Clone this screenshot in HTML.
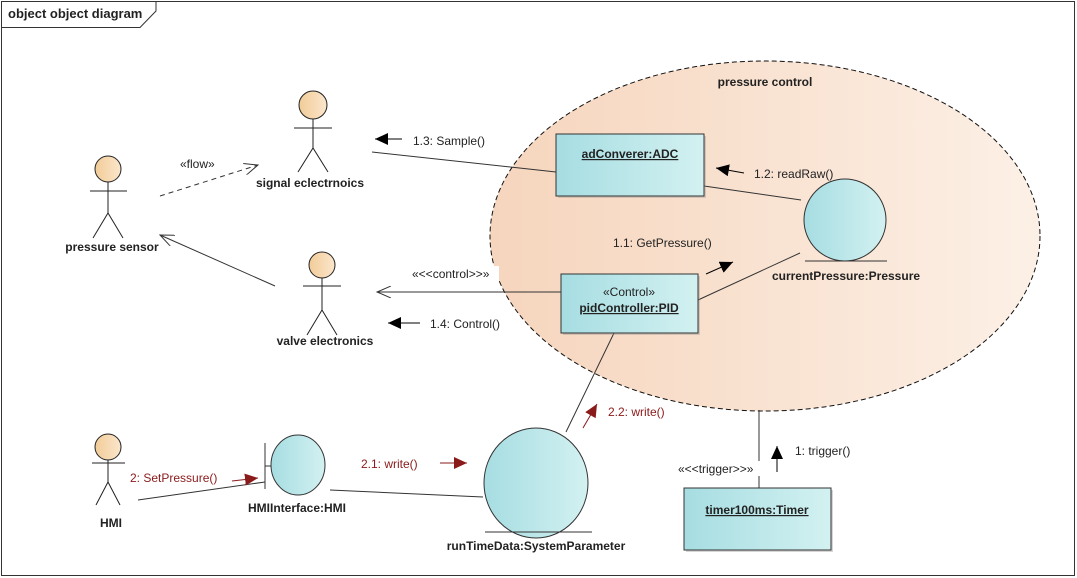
<!DOCTYPE html>
<html><head><meta charset="utf-8"><style>
html,body{margin:0;padding:0;background:#fff;}
svg{display:block;font-family:"Liberation Sans",sans-serif;}
.b{font-weight:bold;font-size:12px;fill:#222;}
.t{font-size:12px;fill:#222;}
.r{font-size:12px;fill:#8b1a1a;}
</style></head><body>
<svg width="1077" height="578" viewBox="0 0 1077 578">
<defs>
<linearGradient id="pe" x1="0" x2="1"><stop offset="0" stop-color="#f6d5bd"/><stop offset="1" stop-color="#fcf0e6"/></linearGradient>
<linearGradient id="cy" x1="0" x2="1"><stop offset="0" stop-color="#a6dde2"/><stop offset="1" stop-color="#d3f1f1"/></linearGradient>
<linearGradient id="ac" x1="0" x2="1"><stop offset="0" stop-color="#f2cc98"/><stop offset="1" stop-color="#fbe6cc"/></linearGradient>
<marker id="open" markerWidth="16" markerHeight="12" refX="14" refY="6" orient="auto" markerUnits="userSpaceOnUse"><path d="M0,0 L14,6 L0,12" fill="none" stroke="#333" stroke-width="1"/></marker>
<marker id="fa" markerWidth="14" markerHeight="12" refX="13" refY="6" orient="auto" markerUnits="userSpaceOnUse"><path d="M0,0 L13,6 L0,12 Z" fill="#000"/></marker>
<marker id="fr" markerWidth="14" markerHeight="12" refX="13" refY="6" orient="auto" markerUnits="userSpaceOnUse"><path d="M0,0 L13,6 L0,12 Z" fill="#8b1a1a"/></marker>
</defs>
<rect x="1.5" y="1.5" width="1073" height="574" fill="#fff" stroke="#333"/>
<path d="M1.5,27.5 H140 L156,11 V1.5" fill="none" stroke="#333"/>
<text x="8" y="18" class="b" style="font-size:13px">object object diagram</text>

<ellipse cx="765" cy="236" rx="275" ry="175" fill="url(#pe)" stroke="#111" stroke-dasharray="5,3"/>
<text x="765" y="86" class="b" text-anchor="middle">pressure control</text>

<line x1="160" y1="196" x2="258" y2="165" stroke="#333" stroke-dasharray="5,4" marker-end="url(#open)"/>
<text x="180" y="168" class="t">«flow»</text>
<line x1="372" y1="152" x2="556" y2="172" stroke="#333"/>
<line x1="402" y1="139" x2="375" y2="139" stroke="#000" marker-end="url(#fa)"/>
<text x="413" y="145" class="t">1.3: Sample()</text>
<line x1="275" y1="286" x2="160" y2="235" stroke="#333" marker-end="url(#open)"/>
<line x1="561" y1="292" x2="377" y2="292" stroke="#333" marker-end="url(#open)"/>
<rect x="410" y="266" width="89" height="15" fill="#fff"/>
<text x="412" y="278" class="t">«&lt;&lt;control&gt;&gt;»</text>
<line x1="420" y1="323" x2="388" y2="323" stroke="#000" marker-end="url(#fa)"/>
<text x="430" y="328" class="t">1.4: Control()</text>
<line x1="704" y1="186" x2="801" y2="200" stroke="#333"/>
<line x1="744" y1="173" x2="716" y2="168" stroke="#000" marker-end="url(#fa)"/>
<text x="754" y="178" class="t">1.2: readRaw()</text>
<line x1="698" y1="300" x2="800" y2="253" stroke="#333"/>
<line x1="706" y1="274" x2="733" y2="262" stroke="#000" marker-end="url(#fa)"/>
<text x="613" y="247" class="t">1.1: GetPressure()</text>
<line x1="614" y1="333" x2="566" y2="432" stroke="#333"/>
<line x1="583" y1="428" x2="597" y2="404" stroke="#8b1a1a" marker-end="url(#fr)"/>
<text x="608" y="416" class="r">2.2: write()</text>
<line x1="138" y1="500" x2="265" y2="482" stroke="#333"/>
<line x1="232" y1="481" x2="258" y2="478" stroke="#8b1a1a" marker-end="url(#fr)"/>
<text x="130" y="482" class="r">2: SetPressure()</text>
<line x1="330" y1="490" x2="483" y2="497" stroke="#333"/>
<line x1="440" y1="463" x2="467" y2="463" stroke="#8b1a1a" marker-end="url(#fr)"/>
<text x="361" y="468" class="r">2.1: write()</text>
<line x1="759" y1="410" x2="759" y2="461" stroke="#333"/>
<line x1="759" y1="476" x2="759" y2="488" stroke="#333"/>
<text x="678" y="473" class="t">«&lt;&lt;trigger&gt;&gt;»</text>
<line x1="777" y1="472" x2="777" y2="446" stroke="#000" marker-end="url(#fa)"/>
<text x="795" y="455" class="t">1: trigger()</text>

<rect x="558" y="136" width="148" height="62" fill="#999" opacity="0.4"/>
<rect x="556" y="134" width="148" height="62" fill="url(#cy)" stroke="#333"/>
<text x="630" y="158" class="b" text-anchor="middle" text-decoration="underline">adConverer:ADC</text>
<rect x="563" y="276" width="137" height="59" fill="#999" opacity="0.4"/>
<rect x="561" y="274" width="137" height="59" fill="url(#cy)" stroke="#333"/>
<text x="629" y="296" class="t" text-anchor="middle">«Control»</text>
<text x="629" y="312" class="b" text-anchor="middle" text-decoration="underline">pidController:PID</text>
<rect x="686" y="490" width="147" height="62" fill="#999" opacity="0.4"/>
<rect x="684" y="488" width="147" height="62" fill="url(#cy)" stroke="#333"/>
<text x="757" y="514" class="b" text-anchor="middle" text-decoration="underline">timer100ms:Timer</text>

<circle cx="845" cy="220" r="41" fill="url(#cy)" stroke="#333"/>
<line x1="805" y1="261" x2="887" y2="261" stroke="#333"/>
<text x="846" y="280" class="b" text-anchor="middle">currentPressure:Pressure</text>
<ellipse cx="536" cy="483" rx="52" ry="55" fill="url(#cy)" stroke="#333"/>
<line x1="485" y1="532" x2="592" y2="532" stroke="#333"/>
<text x="536" y="550" class="b" text-anchor="middle">runTimeData:SystemParameter</text>
<ellipse cx="298" cy="465" rx="27" ry="30" fill="url(#cy)" stroke="#333"/>
<line x1="265" y1="443" x2="265" y2="489" stroke="#333"/>
<line x1="265" y1="466" x2="271" y2="466" stroke="#333"/>
<text x="297" y="512" class="b" text-anchor="middle">HMIInterface:HMI</text>

<g stroke="#222" fill="none">
<circle cx="108" cy="169" r="13" fill="url(#ac)"/>
<line x1="90" y1="191" x2="127" y2="191"/><line x1="108" y1="182" x2="108" y2="213"/>
<polyline points="93,238 108,213 123,238"/>
<circle cx="313" cy="105" r="14" fill="url(#ac)"/>
<line x1="294" y1="128" x2="332" y2="128"/><line x1="313" y1="119" x2="313" y2="148"/>
<polyline points="298,172 313,148 328,172"/>
<circle cx="322" cy="265" r="13" fill="url(#ac)"/>
<line x1="303" y1="286" x2="341" y2="286"/><line x1="322" y1="278" x2="322" y2="310"/>
<polyline points="307,335 322,310 337,335"/>
<circle cx="108" cy="447" r="13" fill="url(#ac)"/>
<line x1="92" y1="463" x2="125" y2="463"/><line x1="108" y1="460" x2="108" y2="482"/>
<polyline points="96,505 108,482 120,505"/>
</g>
<text x="112" y="251" class="b" text-anchor="middle">pressure sensor</text>
<text x="310" y="187" class="b" text-anchor="middle">signal eclectrnoics</text>
<text x="325" y="345" class="b" text-anchor="middle">valve electronics</text>
<text x="111" y="527" class="b" text-anchor="middle">HMI</text>
</svg>
</body></html>
